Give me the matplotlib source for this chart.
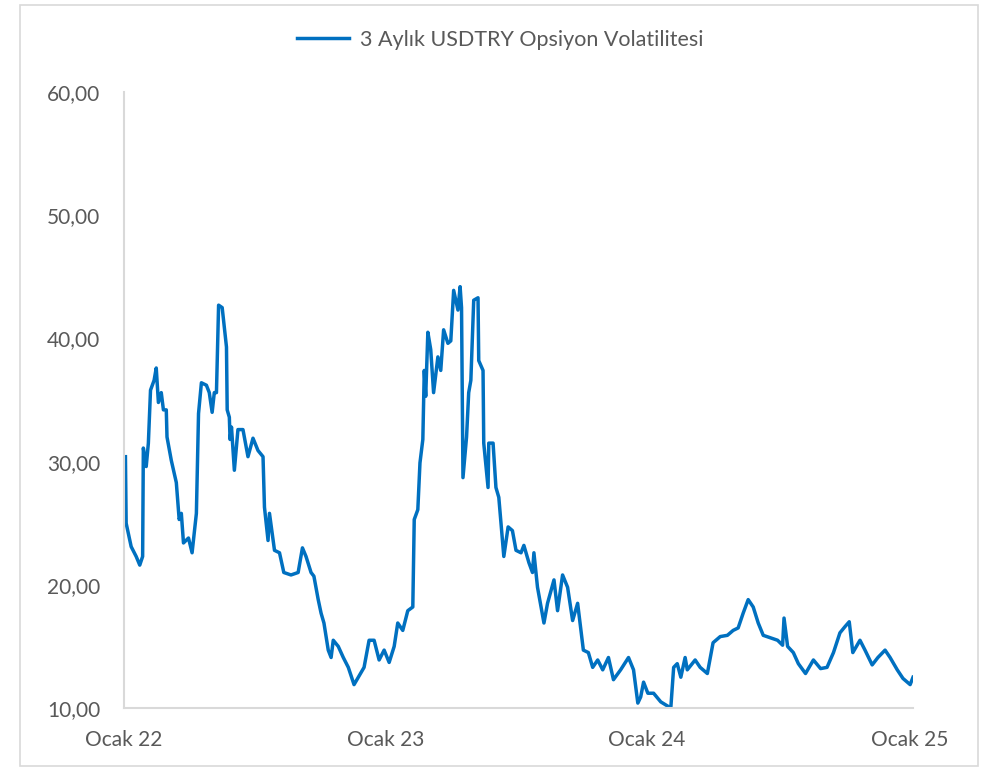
import matplotlib
matplotlib.use("Agg")
import matplotlib.pyplot as plt
from matplotlib.patches import Rectangle
import pandas as pd

# 3 aylik USDTRY opsiyon volatilitesi, gun sayisi 2022-01-01'den itibaren
start = "2022-01-01"
day_offset = [2, 3, 10, 17, 22, 26, 27, 31, 34, 37, 42, 45, 48, 52, 55, 59, 60,
              66, 73, 77, 80, 83, 90, 95, 101, 104, 108, 115, 119, 123, 126, 129,
              132, 137, 143, 144, 147, 148, 150, 154, 159, 166, 173, 180, 187, 194,
              196, 201, 203, 210, 217, 223, 233, 243, 249, 254, 261, 265, 271, 275,
              279, 285, 289, 292, 299, 306, 313, 321, 327, 335, 342, 349, 356, 363,
              370, 377, 382, 389, 396, 403, 405, 410, 413, 417, 419, 421, 424, 428,
              432, 438, 442, 446, 452, 456, 460, 466, 469, 471, 473, 478, 481, 484,
              488, 494, 495, 501, 502, 508, 509, 515, 519, 523, 526, 530, 536, 542,
              547, 554, 558, 565, 570, 572, 577, 586, 591, 600, 605, 612, 619, 626,
              633, 637, 641, 648, 654, 661, 668, 676, 683, 693, 704, 711, 717, 721,
              725, 731, 739, 749, 763, 767, 772, 777, 783, 786, 797, 804, 814, 822,
              832, 842, 850, 857, 864, 871, 878, 885, 892, 902, 912, 919, 921, 926,
              934, 941, 951, 962, 972, 981, 990, 999, 1006, 1012, 1017, 1027, 1034,
              1044, 1052, 1062, 1069, 1079, 1087, 1097, 1101]
volatility = [30.4, 25.0, 23.1, 22.3, 21.6, 22.3, 31.1, 29.6, 31.5, 35.8, 36.6, 37.6,
              34.8, 35.6, 34.2, 34.2, 32.0, 30.1, 28.3, 25.3, 25.8, 23.4, 23.8, 22.6,
              25.8, 33.9, 36.4, 36.2, 35.6, 34.0, 35.6, 35.6, 42.7, 42.5, 39.3, 34.2,
              33.6, 31.8, 32.8, 29.3, 32.6, 32.6, 30.4, 31.9, 30.9, 30.4, 26.3, 23.6,
              25.8, 22.8, 22.6, 21.0, 20.8, 21.0, 23.0, 22.3, 21.0, 20.7, 18.8, 17.7,
              16.9, 14.7, 14.1, 15.5, 15.0, 14.1, 13.3, 11.9, 12.5, 13.3, 15.5, 15.5,
              13.9, 14.7, 13.7, 15.0, 16.9, 16.3, 17.9, 18.2, 25.3, 26.1, 29.9, 31.8,
              37.4, 35.3, 40.5, 39.1, 35.6, 38.5, 37.4, 40.7, 39.6, 39.8, 43.9, 42.3,
              44.2, 42.5, 28.7, 32.0, 35.6, 36.6, 43.1, 43.3, 38.2, 37.4, 31.5, 27.9,
              31.5, 31.5, 27.9, 27.1, 25.0, 22.3, 24.7, 24.4, 22.8, 22.6, 23.2, 21.8,
              21.0, 22.6, 19.8, 16.9, 18.5, 20.4, 17.9, 20.8, 19.8, 17.1, 18.5, 16.6,
              14.7, 14.5, 13.3, 13.9, 13.1, 14.1, 12.3, 13.1, 14.1, 13.1, 10.4, 10.9,
              12.1, 11.2, 11.2, 10.5, 10.0, 13.3, 13.6, 12.5, 14.1, 13.1, 13.9, 13.3,
              12.8, 15.3, 15.8, 15.9, 16.3, 16.5, 17.7, 18.8, 18.2, 16.9, 15.9, 15.7,
              15.5, 15.1, 17.3, 15.0, 14.5, 13.6, 12.8, 13.9, 13.2, 13.3, 14.5, 16.1,
              16.6, 17.0, 14.5, 15.5, 14.7, 13.5, 14.1, 14.7, 14.1, 13.1, 12.4, 11.9,
              12.5]
tick_dates = ["2022-01-01", "2023-01-01", "2024-01-01", "2025-01-01"]
tick_labels = ["Ocak 22", "Ocak 23", "Ocak 24", "Ocak 25"]
y_ticks = [10, 20, 30, 40, 50, 60]
series_name = "3 Aylık USDTRY Opsiyon Volatilitesi"

dates = pd.Timestamp(start) + pd.to_timedelta(day_offset, unit="D")

plt.rcParams["font.family"] = ["Lato", "DejaVu Sans"]
TXT = "#595959"
GRID = "#D9D9D9"

fig = plt.figure(figsize=(9.81, 7.68), dpi=100)
fig.patches.append(Rectangle((20 / 981, 0.002), 958 / 981, 0.992, transform=fig.transFigure,
                             fill=False, edgecolor=GRID, linewidth=1.2))
ax = fig.add_axes([0.1264, 0.0781, 0.8043, 0.8021])

ax.plot(dates, volatility, color="#0070C0", linewidth=2.5, label=series_name,
        solid_joinstyle="round")

ax.set_ylim(10, 60)
ax.set_yticks(y_ticks)
ax.set_yticklabels([f"{v:.2f}".replace(".", ",") for v in y_ticks])
ax.set_xlim(pd.Timestamp(start), dates[-1])
ax.set_xticks(pd.to_datetime(tick_dates))
ax.set_xticklabels(tick_labels)
ax.tick_params(axis="both", length=0, colors=TXT, labelsize=15)
ax.tick_params(axis="y", pad=17)
ax.tick_params(axis="x", pad=16)

for s in ["top", "right"]:
    ax.spines[s].set_visible(False)
for s in ["left", "bottom"]:
    ax.spines[s].set_color(GRID)
    ax.spines[s].set_linewidth(1.5)

leg = fig.legend(loc="center", bbox_to_anchor=(0.51, 0.948), frameon=False,
                 fontsize=15.5, handlelength=2.4, handletextpad=0.5)
for t in leg.get_texts():
    t.set_color(TXT)

fig.savefig("out.png", dpi=100)
plt.close(fig)
